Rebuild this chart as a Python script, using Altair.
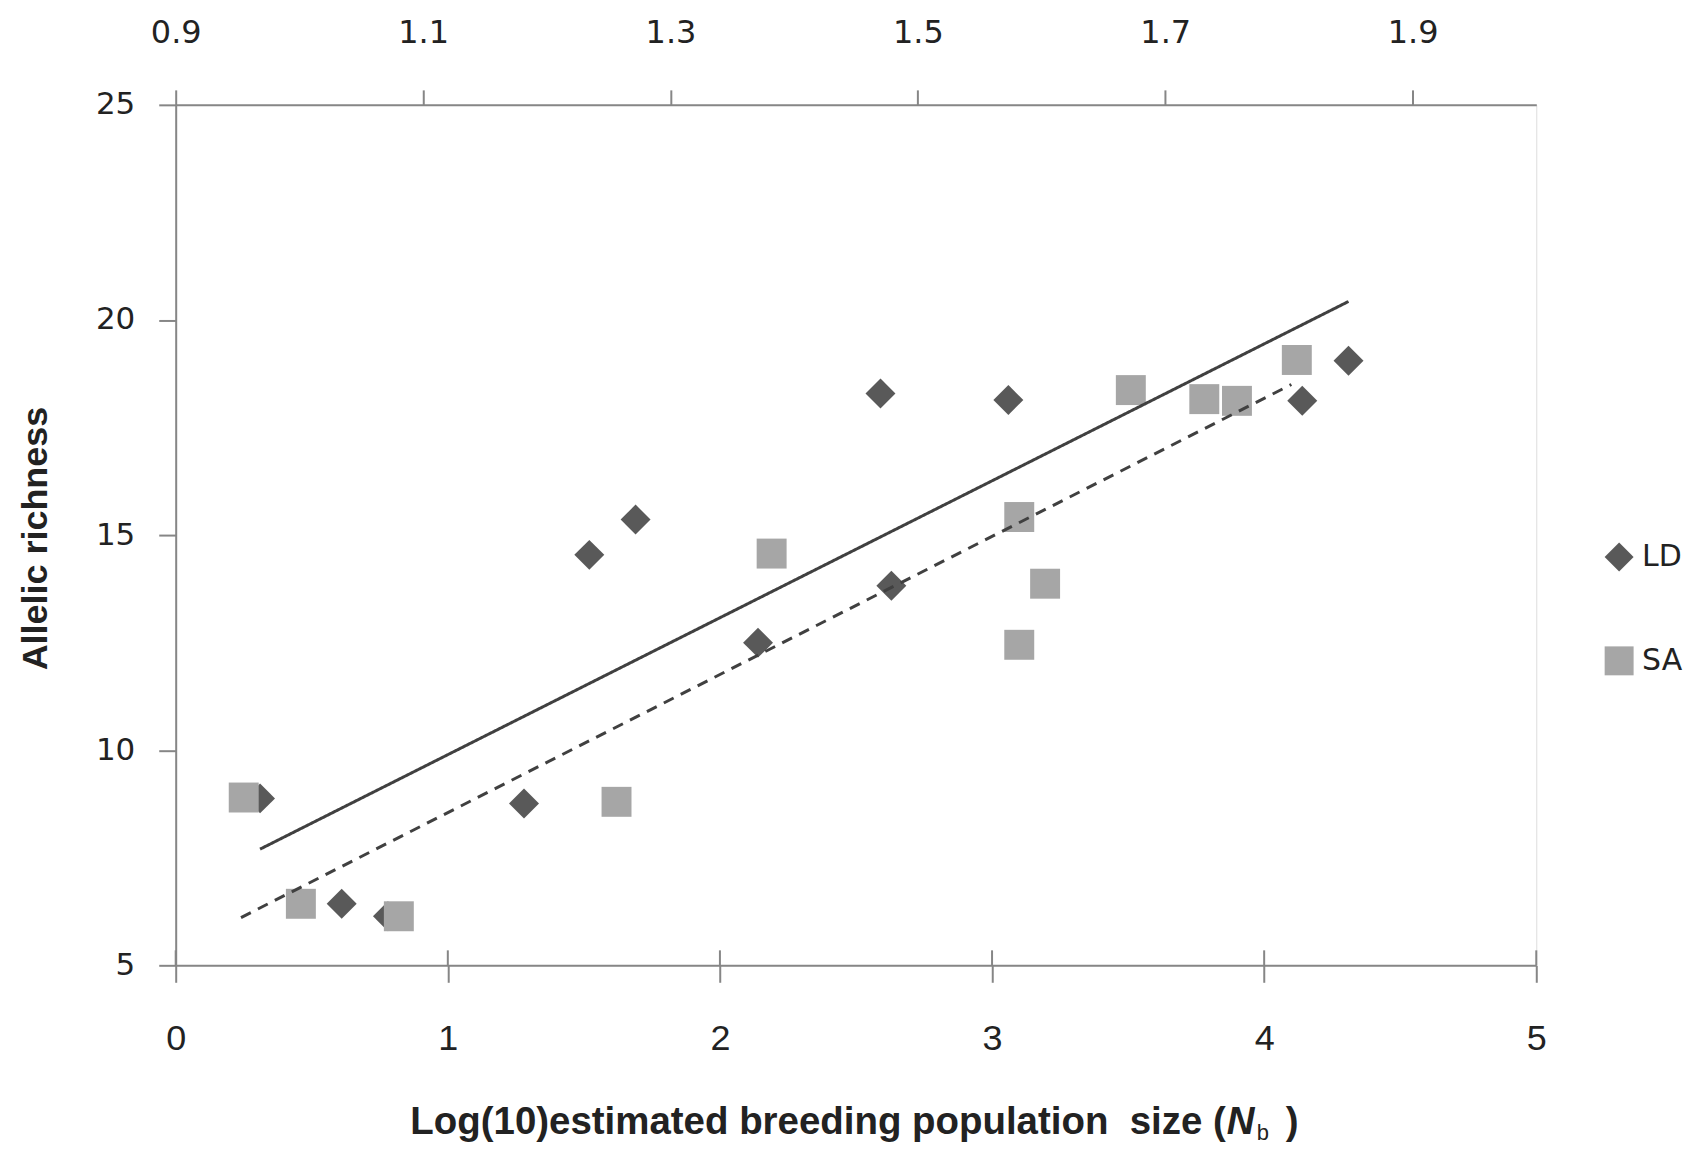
import altair as alt
import pandas as pd

# ---- data ----
series = ["LD", "SA"]
ld_x = [0.31, 0.61, 0.78, 1.28, 1.52, 1.69, 2.14, 2.59, 2.63, 3.06, 4.14, 4.31]
ld_y = [8.88, 6.43, 6.14, 8.76, 14.54, 15.36, 12.50, 18.29, 13.82, 18.14, 18.12, 19.05]
sa_x = [0.25, 0.46, 0.82, 1.62, 2.19, 3.10, 3.10, 3.195, 3.51, 3.78, 3.90, 4.12]
sa_y = [8.90, 6.43, 6.14, 8.80, 14.57, 15.42, 12.45, 13.87, 18.37, 18.16, 18.12, 19.07]

ld_trend_x = [0.31, 4.31]
ld_trend_y = [7.70, 20.43]
sa_trend_x = [0.24, 4.10]
sa_trend_y = [6.11, 18.50]

x_ticks = [0, 1, 2, 3, 4, 5]
y_ticks = [5, 10, 15, 20, 25]
top_ticks = [0.9, 1.1, 1.3, 1.5, 1.7, 1.9]
top_domain = [0.9, 2.0]

colors = ["#595959", "#a6a6a6"]
shapes = ["diamond", "square"]

pts = pd.DataFrame({
    "x": ld_x + sa_x,
    "y": ld_y + sa_y,
    "series": ["LD"] * len(ld_x) + ["SA"] * len(sa_x),
})
trend = pd.DataFrame({
    "x": ld_trend_x + sa_trend_x,
    "y": ld_trend_y + sa_trend_y,
    "series": ["LD"] * 2 + ["SA"] * 2,
})
top_df = pd.DataFrame({"t": top_ticks})
xtick_df = pd.DataFrame({"x": x_ticks})

AX = "#868686"
xscale = alt.Scale(domain=[0, 5], nice=False, zero=False)
yscale = alt.Scale(domain=[5, 25], nice=False, zero=False)

x_axis = alt.Axis(values=x_ticks, format="d", title=None, grid=False, labelFlush=False,
                  domainColor=AX, domainWidth=2, tickColor=AX, tickWidth=2,
                  tickSize=17, labelFont="Liberation Sans", labelFontSize=36,
                  labelColor="#222", labelBaseline="alphabetic", labelPadding=67)
y_axis = alt.Axis(values=y_ticks, format="d", grid=False, labelFlush=False,
                  domainColor=AX, domainWidth=2, tickColor=AX, tickWidth=2,
                  tickSize=17, labelFont="DejaVu Sans", labelFontSize=31,
                  labelColor="#222", labelPadding=24,
                  title="Allelic richness", titleFont="Liberation Sans",
                  titleFontWeight="bold", titleFontSize=36, titleColor="#222",
                  titleX=-140, titleY=434, titleAngle=270, titleAlign="center",
                  titleBaseline="middle")

legend = alt.Legend(title=None, orient="none", legendX=1431, legendY=438,
                    symbolSize=841, labelFont="DejaVu Sans", labelFontSize=30,
                    labelColor="#222", rowPadding=74, labelOffset=8,
                    symbolStrokeWidth=0, padding=0)

points = alt.Chart(pts).mark_point(filled=True, opacity=1, size=900, strokeWidth=0).encode(
    x=alt.X("x:Q", scale=xscale, axis=x_axis),
    y=alt.Y("y:Q", scale=yscale, axis=y_axis),
    color=alt.Color("series:N", scale=alt.Scale(domain=series, range=colors), legend=legend),
    shape=alt.Shape("series:N", scale=alt.Scale(domain=series, range=shapes), legend=legend),
)

lines = alt.Chart(trend).mark_line(color="#404040", strokeWidth=3).encode(
    x=alt.X("x:Q", scale=xscale, axis=x_axis),
    y=alt.Y("y:Q", scale=yscale, axis=y_axis),
    detail="series:N",
    strokeDash=alt.StrokeDash("series:N", scale=alt.Scale(domain=series, range=[[1, 0], [11, 8]]), legend=None),
)

# upper half of the crossing tick marks on the bottom axis
inner_ticks = alt.Chart(xtick_df).mark_rule(color=AX, strokeWidth=2).encode(
    x=alt.X("x:Q", scale=xscale, axis=x_axis),
    y=alt.value(847), y2=alt.value(862),
)

top = alt.Chart(top_df).mark_point(opacity=0).encode(
    x=alt.X("t:Q", scale=alt.Scale(domain=top_domain, nice=False, zero=False),
            axis=alt.Axis(orient="top", values=top_ticks, format=".1f", title=None, grid=False,
                          labelFlush=False,
                          domainColor=AX, domainWidth=2, tickColor=AX, tickWidth=2,
                          tickSize=15, labelFont="DejaVu Sans", labelFontSize=32,
                          labelColor="#222", labelBaseline="alphabetic", labelPadding=47)),
    y=alt.value(0),
)

TF = "Liberation Sans"
def txt(s, x, y, size=38.5, style="normal", align="left", weight="bold"):
    return alt.Chart(pd.DataFrame({"s": [s]})).mark_text(
        font=TF, fontSize=size, fontWeight=weight, fontStyle=style, align=align,
        baseline="alphabetic", color="#222"
    ).encode(text="s:N", x=alt.value(x), y=alt.value(y))

title_parts = [
    txt("Log(10)estimated breeding population\u00a0 size (", 1052, 1031, align="right"),
    txt("N", 1053, 1031, style="italic"),
    txt("b", 1083, 1037, size=22, weight="normal"),
    txt(")", 1112, 1031),
]

chart = alt.layer(alt.layer(inner_ticks, points, lines), top, *title_parts).resolve_scale(
    x="independent"
).properties(
    width=1363, height=862,
    padding={"left": 168, "top": 96, "right": 155, "bottom": 185},
    autosize=alt.AutoSizeParams(type="none"),
).configure_view(stroke=None).configure(background="white")

chart.save("out.html", embed_options={"renderer": "svg", "actions": False})
